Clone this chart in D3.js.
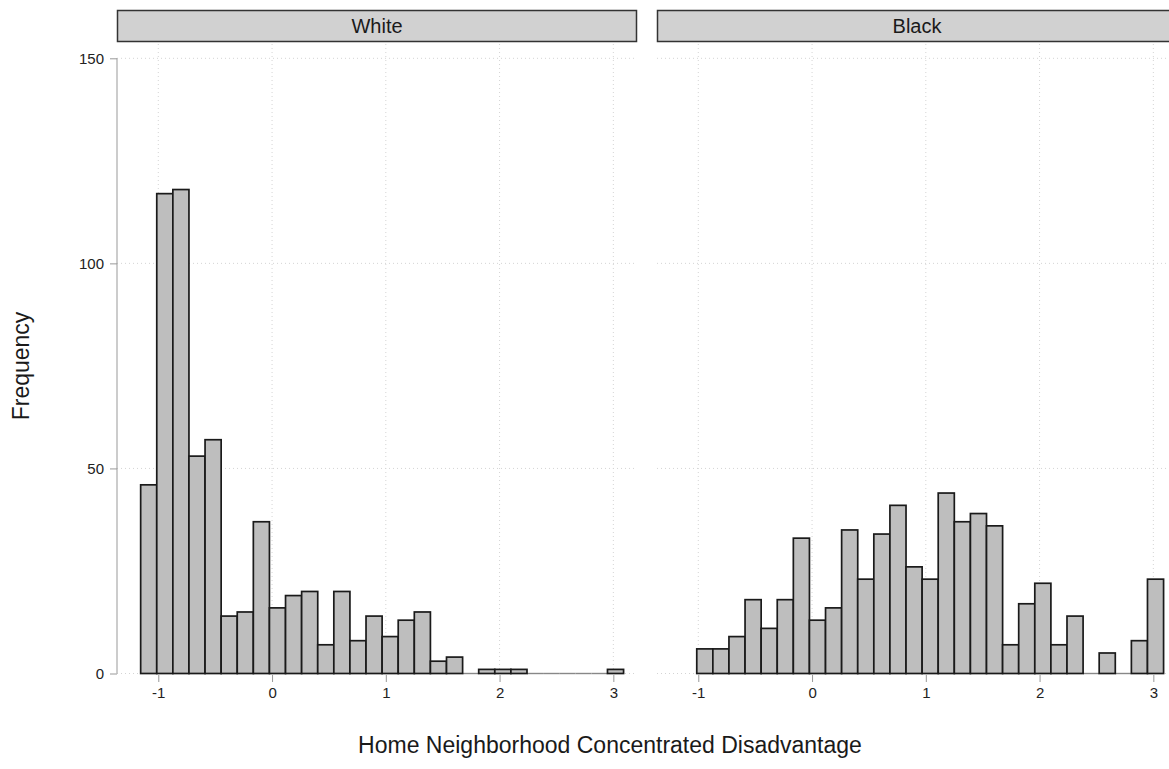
<!DOCTYPE html>
<html>
<head>
<meta charset="utf-8">
<script src="https://cdn.jsdelivr.net/npm/d3@7"></script>
<style>
  body { margin: 0; background: #fff; }
  svg { font-family: "Liberation Sans", Arial, sans-serif; }
</style>
</head>
<body>
<svg id="chart" width="1169" height="769"></svg>
<script>
// Histogram bins (30 bins, shared across facets)
const binStart = -1.155;
const binWidth = 0.1415;

const facets = ['White', 'Black'];
const whiteCounts = [46, 117, 118, 53, 57, 14, 15, 37, 16, 19, 20, 7, 20, 8, 14,
  9, 13, 15, 3, 4, 0, 1, 1, 1, 0, 0, 0, 0, 0, 1];
const blackCounts = [null, 6, 6, 9, 18, 11, 18, 33, 13, 16, 35, 23, 34, 41, 26,
  23, 44, 37, 39, 36, 7, 17, 22, 7, 14, 0, 5, 0, 8, 23];

const xTicks = [-1, 0, 1, 2, 3];
const yTicks = [0, 50, 100, 150];

const svg = d3.select('#chart');

const panelW = 520;
const panelLeft = [117, 657];
const yTop = 44, yBottom = 674;

const y = d3.scaleLinear().domain([0, 150]).range([673.5, 58.3]);

const countsFor = { White: whiteCounts, Black: blackCounts };

facets.forEach((name, i) => {
  const x0 = panelLeft[i];
  const x = d3.scaleLinear().domain([-1.363, 3.208]).range([x0, x0 + panelW]);
  const g = svg.append('g');

  // Grid — dotted
  g.append('g')
    .selectAll('line.vg')
    .data(xTicks)
    .join('line')
    .attr('x1', d => x(d)).attr('x2', d => x(d))
    .attr('y1', yTop).attr('y2', yBottom)
    .attr('stroke', '#d4d4d4')
    .attr('stroke-width', 1)
    .attr('stroke-dasharray', '1,3');

  g.append('g')
    .selectAll('line.hg')
    .data(yTicks)
    .join('line')
    .attr('x1', x0).attr('x2', x0 + panelW)
    .attr('y1', d => y(d)).attr('y2', d => y(d))
    .attr('stroke', '#d4d4d4')
    .attr('stroke-width', 1)
    .attr('stroke-dasharray', '1,3');

  const bins = countsFor[name]
    .map((c, k) => ({ k, c }))
    .filter(d => d.c !== null);
  const bx0 = d => x(binStart + d.k * binWidth);
  const bx1 = d => x(binStart + (d.k + 1) * binWidth);

  // Empty bins show as a flat outline on the baseline
  g.append('g')
    .selectAll('line')
    .data(bins.filter(d => d.c === 0))
    .join('line')
    .attr('x1', bx0).attr('x2', bx1)
    .attr('y1', y(0)).attr('y2', y(0))
    .attr('stroke', '#888')
    .attr('stroke-width', 1.4);

  // Bars
  g.append('g')
    .selectAll('rect')
    .data(bins.filter(d => d.c > 0))
    .join('rect')
    .attr('x', bx0)
    .attr('width', d => bx1(d) - bx0(d))
    .attr('y', d => y(d.c))
    .attr('height', d => y(0) - y(d.c))
    .attr('fill', '#bebebe')
    .attr('stroke', '#1a1a1a')
    .attr('stroke-width', 1.7);

  // Strip
  g.append('rect')
    .attr('x', x0 + 0.5).attr('y', 10.5)
    .attr('width', panelW - 1).attr('height', 31)
    .attr('fill', '#d1d1d1')
    .attr('stroke', '#333')
    .attr('stroke-width', 1.5);
  g.append('text')
    .attr('x', x0 + panelW / 2).attr('y', 33)
    .attr('text-anchor', 'middle')
    .attr('font-size', 20)
    .attr('fill', '#1a1a1a')
    .text(name);

  // X axis ticks
  const xa = g.append('g')
    .attr('transform', `translate(0,${yBottom + 1})`)
    .call(d3.axisBottom(x).tickValues(xTicks).tickSize(7).tickPadding(5).tickFormat(d3.format('d')));
  xa.select('.domain').remove();
  xa.selectAll('.tick line').attr('stroke', '#999');
  xa.selectAll('.tick text')
    .attr('font-size', 15)
    .attr('fill', '#222')
    .attr('font-family', '"Liberation Sans", Arial, sans-serif')
    .text(d => d < 0 ? '-' + Math.abs(d) : d);
});

// Y axis on the left panel
const ya = svg.append('g')
  .attr('transform', `translate(${panelLeft[0]},0)`)
  .call(d3.axisLeft(y).tickValues(yTicks).tickSize(7).tickPadding(6));
ya.select('.domain').remove();
ya.append('line')
  .attr('x1', 0).attr('x2', 0)
  .attr('y1', y(150)).attr('y2', y(0))
  .attr('stroke', '#999');
ya.selectAll('.tick line').attr('stroke', '#999');
ya.selectAll('.tick text')
  .attr('font-size', 15)
  .attr('fill', '#222')
  .attr('font-family', '"Liberation Sans", Arial, sans-serif');

// Axis titles
svg.append('text')
  .attr('x', 610).attr('y', 753)
  .attr('text-anchor', 'middle')
  .attr('font-size', 23)
  .attr('fill', '#1a1a1a')
  .text('Home Neighborhood Concentrated Disadvantage');

svg.append('text')
  .attr('transform', 'translate(29,366) rotate(-90)')
  .attr('text-anchor', 'middle')
  .attr('font-size', 23)
  .attr('fill', '#1a1a1a')
  .text('Frequency');
</script>
</body>
</html>
